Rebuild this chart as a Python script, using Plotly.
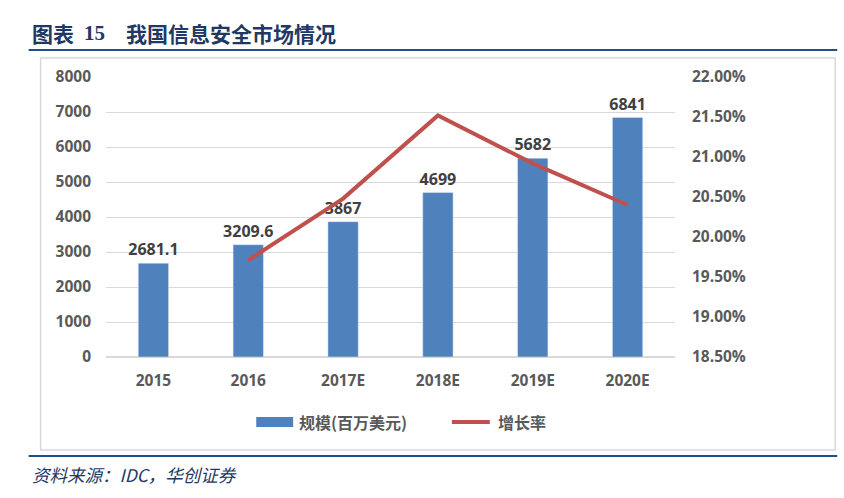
import plotly.graph_objects as go

categories = ["2015", "2016", "2017E", "2018E", "2019E", "2020E"]
scale_values = [2681.1, 3209.6, 3867, 4699, 5682, 6841]
scale_labels = ["2681.1", "3209.6", "3867", "4699", "5682", "6841"]
growth_categories = ["2016", "2017E", "2018E", "2019E", "2020E"]
growth_values = [0.1971, 0.2048, 0.2152, 0.2092, 0.2040]

W, H = 844, 498
L, R, T, B = 105.5, 675.5, 77, 357
pw, ph = R - L, B - T

def px(x):
    return (x - L) / pw

def py(y):
    return (B - y) / ph

FONT = "Open Sans, Noto Sans CJK SC, sans-serif"
CJK = "Noto Sans CJK SC, sans-serif"
TXT = "#595959"
BLUE = "#4F81BD"
RED = "#C0504D"

fig = go.Figure()
fig.add_trace(go.Bar(
    x=categories, y=scale_values, name="规模(百万美元)",
    marker_color=BLUE, text=scale_labels, textposition="outside",
    constraintext="none",
    textfont=dict(family=FONT, size=16, color="#404040", weight="bold"),
    cliponaxis=False,
))
fig.add_trace(go.Scatter(
    x=growth_categories, y=growth_values, name="增长率", yaxis="y2",
    mode="lines", line=dict(color=RED, width=4),
))

tickfont = dict(family=FONT, size=15.5, color=TXT, weight="bold")

fig.update_layout(
    width=W, height=H,
    margin=dict(l=L, r=W - R, t=T, b=H - B, autoexpand=False),
    plot_bgcolor="white", paper_bgcolor="white",
    bargap=0.68,
    showlegend=False,
    xaxis=dict(showgrid=False, showline=False, ticks="",
               tickfont=tickfont, ticklabelstandoff=12),
    yaxis=dict(range=[0, 8000], dtick=1000, showgrid=True, gridcolor="#D9D9D9",
               gridwidth=1, zeroline=True, zerolinecolor="#D9D9D9", showline=False,
               tickfont=tickfont, ticklabelstandoff=14),
    yaxis2=dict(range=[0.185, 0.22], dtick=0.005, tickformat=".2%", overlaying="y",
                side="right", showgrid=False, zeroline=False, showline=False,
                tickfont=tickfont, ticklabelstandoff=16),
    shapes=[
        dict(type="rect", xref="paper", yref="paper", x0=px(40), x1=px(836), y0=py(450), y1=py(58),
             line=dict(color="#D9D9D9", width=1.5), layer="below"),
        dict(type="line", xref="paper", yref="paper", x0=px(28), x1=px(838), y0=py(50), y1=py(50),
             line=dict(color="#1F4E8C", width=2)),
        dict(type="line", xref="paper", yref="paper", x0=px(28), x1=px(838), y0=py(456), y1=py(456),
             line=dict(color="#1F4E8C", width=2)),
        # legend swatches
        dict(type="rect", xref="paper", yref="paper", x0=px(256), x1=px(293), y0=py(427), y1=py(417),
             line=dict(width=0), fillcolor=BLUE),
        dict(type="line", xref="paper", yref="paper", x0=px(452), x1=px(490), y0=py(422), y1=py(422),
             line=dict(color=RED, width=4)),
    ],
    annotations=[
        dict(text="<b>图表</b>", xref="paper", yref="paper",
             x=px(29), y=py(33), xanchor="left", yanchor="middle", showarrow=False,
             font=dict(family=CJK, size=21, color="#1F3864")),
        dict(text="<b>15</b>", xref="paper", yref="paper",
             x=px(81), y=py(33), xanchor="left", yanchor="middle", showarrow=False,
             font=dict(family="Liberation Serif, serif", size=21, color="#1F3864")),
        dict(text="<b>我国信息安全市场情况</b>", xref="paper", yref="paper",
             x=px(124), y=py(33), xanchor="left", yanchor="middle", showarrow=False,
             font=dict(family=CJK, size=21, color="#1F3864")),
        dict(text="<i>资料来源：IDC，华创证券</i>", xref="paper", yref="paper",
             x=px(29), y=py(474), xanchor="left", yanchor="middle", showarrow=False,
             font=dict(family=CJK, size=17.5, color="#1F3864")),
        dict(text="<b>规模(百万美元)</b>", xref="paper", yref="paper",
             x=px(297), y=py(422), xanchor="left", yanchor="middle", showarrow=False,
             font=dict(family=CJK, size=16, color=TXT)),
        dict(text="<b>增长率</b>", xref="paper", yref="paper",
             x=px(496), y=py(422), xanchor="left", yanchor="middle", showarrow=False,
             font=dict(family=CJK, size=16, color=TXT)),
    ],
)

fig.write_html("out.html", config={"displayModeBar": False},
               post_script="document.body.style.margin='0';document.body.style.padding='0';")
